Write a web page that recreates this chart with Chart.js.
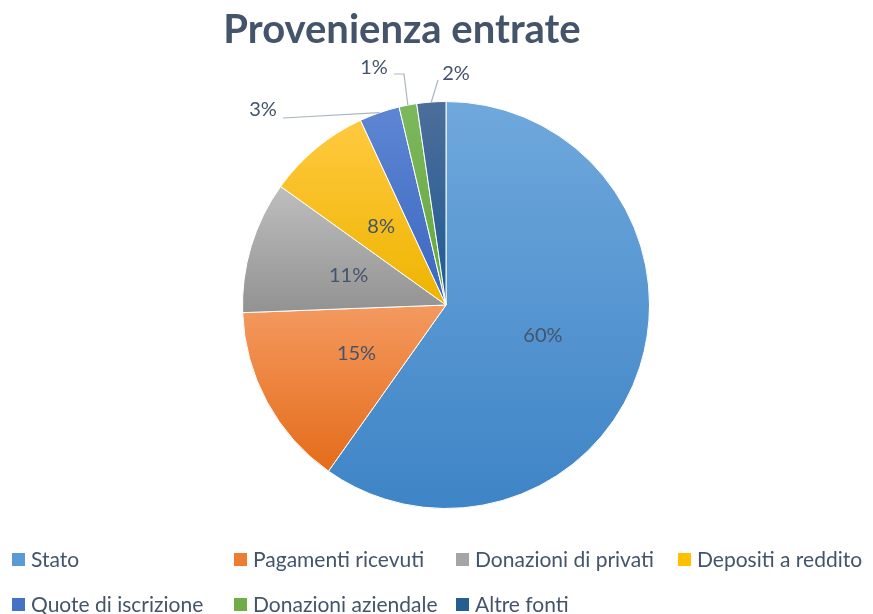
<!DOCTYPE html>
<html>
<head>
<meta charset="utf-8">
<script src="https://cdn.jsdelivr.net/npm/chart.js@4.4.1/dist/chart.umd.min.js"></script>
<style>
  html, body { margin: 0; padding: 0; background: #ffffff; }
  #wrap { width: 873px; height: 614px; position: relative; }
</style>
</head>
<body>
<div id="wrap"><canvas id="chart"></canvas></div>
<script>
'use strict';
// the data (slice shares in %, labels show them rounded)
var chartTitle = 'Provenienza entrate';
var categories = ['Stato', 'Pagamenti ricevuti', 'Donazioni di privati', 'Depositi a reddito',
  'Quote di iscrizione', 'Donazioni aziendale', 'Altre fonti'];
var values = [59.8, 14.6, 10.5, 8.2, 3.2, 1.4, 2.3];

// office-like palette: flat colour for the legend, light/dark ends for the slice gradient
var baseColors = ['#5b9bd5', '#ed7d31', '#a5a5a5', '#ffc000', '#4472c4', '#70ad47', '#255e91'];
var topColors = ['#6fa8dc', '#f4995f', '#bebebe', '#ffc93f', '#5e86d4', '#7db85e', '#4d6e9a'];
var bottomColors = ['#3e84c6', '#e46c1a', '#929292', '#eeb400', '#3a66be', '#64a73a', '#1e5a95'];

var textColor = '#44546a';
var fontFamily = 'Lato, "Noto Sans", sans-serif';

// labels that sit outside the pie: offset of the label from the pie centre and
// leader points relative to the label centre; the leader ends on the slice's outer mid point
var outsideLabels = {
  4: { dx: -183, dy: -195, lead: [[20, 8]] },
  5: { dx: -72, dy: -237, lead: [[20, 6], [30, 6]] },
  6: { dx: 10, dy: -231, lead: [[-18, 6]] }
};

var total = values.reduce(function (a, b) { return a + b; }, 0);

// gradient over the bounding box of each slice
function sliceFill(context) {
  var i = context.dataIndex;
  var chart = context.chart;
  var area = chart.chartArea;
  if (!area) return baseColors[i];
  var cx = (area.left + area.right) / 2;
  var cy = (area.top + area.bottom) / 2;
  var r = (Math.min(area.right - area.left, area.bottom - area.top) - 1) / 2;
  var before = 0;
  for (var k = 0; k < i; k++) before += values[k];
  var a0 = -Math.PI / 2 + 2 * Math.PI * before / total;
  var a1 = a0 + 2 * Math.PI * values[i] / total;
  var ys = [cy, cy + r * Math.sin(a0), cy + r * Math.sin(a1)];
  if (a0 <= Math.PI / 2 && a1 >= Math.PI / 2) ys.push(cy + r);
  if (a0 <= 3 * Math.PI / 2 && a1 >= 3 * Math.PI / 2) ys.push(cy - r);
  var y0 = Math.min.apply(null, ys), y1 = Math.max.apply(null, ys);
  if (y1 - y0 < 1) y1 = y0 + 1;
  var g = chart.ctx.createLinearGradient(0, y0, 0, y1);
  g.addColorStop(0, topColors[i]);
  g.addColorStop(1, bottomColors[i]);
  return g;
}

// title, percentage labels with leader lines, and the column legend
var decor = {
  id: 'decor',
  afterDraw: function (chart) {
    var ctx = chart.ctx;
    var meta = chart.getDatasetMeta(0);
    ctx.save();

    // title
    ctx.fillStyle = textColor;
    ctx.font = 'bold 40px ' + fontFamily;
    ctx.textAlign = 'center';
    ctx.textBaseline = 'alphabetic';
    ctx.fillText(chartTitle, 402, 43);

    // percentage labels
    ctx.font = '20px ' + fontFamily;
    ctx.textBaseline = 'middle';
    meta.data.forEach(function (arc, i) {
      var text = Math.round(values[i] / total * 100) + '%';
      var out = outsideLabels[i];
      if (!out) {
        var p = arc.getCenterPoint();
        ctx.fillStyle = textColor;
        ctx.textAlign = 'center';
        ctx.fillText(text, p.x, p.y);
        return;
      }
      var lx = arc.x + out.dx;
      var ly = arc.y + out.dy;
      var ang = (arc.startAngle + arc.endAngle) / 2;
      var ex = arc.x + arc.outerRadius * Math.cos(ang);
      var ey = arc.y + arc.outerRadius * Math.sin(ang);
      ctx.strokeStyle = '#abb5c2';
      ctx.lineWidth = 1.2;
      ctx.beginPath();
      out.lead.forEach(function (pt, j) {
        if (j === 0) ctx.moveTo(lx + pt[0], ly + pt[1]);
        else ctx.lineTo(lx + pt[0], ly + pt[1]);
      });
      ctx.lineTo(ex, ey);
      ctx.stroke();
      ctx.fillStyle = textColor;
      ctx.textAlign = 'center';
      ctx.fillText(text, lx, ly);
    });

    // legend: four columns, two rows
    ctx.font = '21px ' + fontFamily;
    ctx.textAlign = 'left';
    ctx.textBaseline = 'alphabetic';
    categories.forEach(function (name, i) {
      var col = i % 4, row = Math.floor(i / 4);
      var x = 12 + col * 222;
      var base = 567 + row * 45;
      ctx.fillStyle = baseColors[i];
      ctx.fillRect(x, base - 14, 13, 13);
      ctx.fillStyle = textColor;
      ctx.fillText(name, x + 19, base);
    });

    ctx.restore();
  }
};

var ctx = document.getElementById('chart').getContext('2d');
var chart = new Chart(ctx, {
  type: 'pie',
  data: {
    labels: categories,
    datasets: [{
      data: values,
      backgroundColor: sliceFill,
      borderColor: '#ffffff',
      borderWidth: 1
    }]
  },
  options: {
    responsive: true,
    maintainAspectRatio: false,
    animation: false,
    layout: {
      padding: { left: 242, right: 223, top: 101, bottom: 105 }
    },
    plugins: {
      legend: { display: false },
      title: { display: false },
      tooltip: { enabled: false }
    }
  },
  plugins: [decor]
});
</script>
</body>
</html>
